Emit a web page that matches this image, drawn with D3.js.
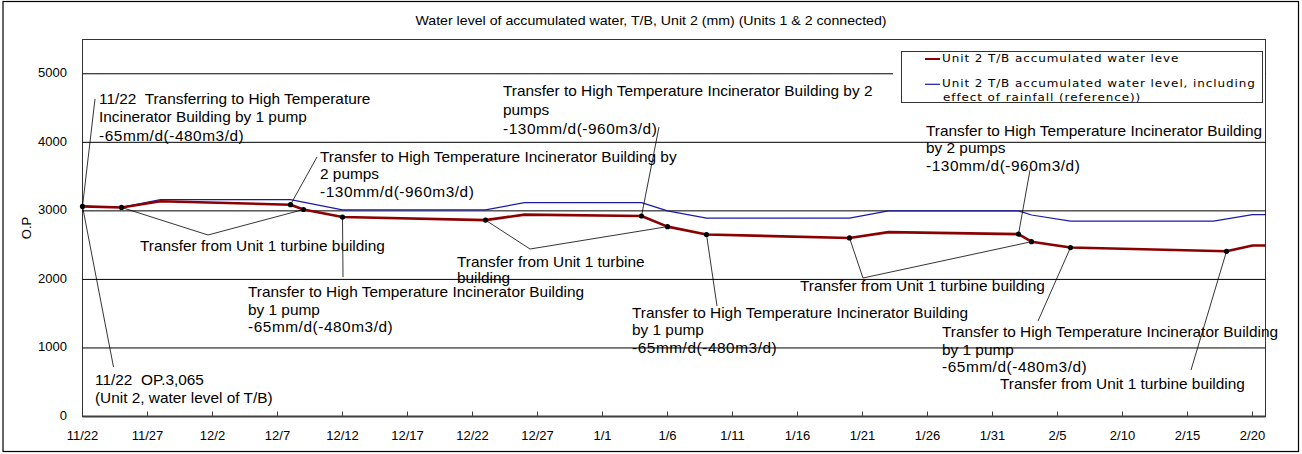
<!DOCTYPE html>
<html>
<head>
<meta charset="utf-8">
<script src="https://cdn.jsdelivr.net/npm/d3@7"></script>
<style>
  body { margin: 0; background: #fff; }
  svg { display: block; font-family: "Liberation Sans", Arial, sans-serif; }
  .frame { fill: none; stroke: #000; stroke-width: 1.2; }
  .plot-border { fill: none; stroke: #333; stroke-width: 1; }
  .grid { stroke: #000; stroke-width: 1; }
  .baseline { stroke: #404040; stroke-width: 2; }
  .tick { stroke: #404040; stroke-width: 1; }
  .title, .tick-label, .axis-title { font-size: 13px; fill: #000; }
  .note { font-size: 14px; fill: #000; white-space: pre; }
  .note.rate { letter-spacing: 0.5px; }
  .leader { stroke: #000; stroke-width: 0.8; fill: none; }
  .marker { fill: #000; }
  .level { fill: none; stroke: #8b0000; stroke-width: 2.6; stroke-linejoin: round; }
  .rain { fill: none; stroke: #1a1aa6; stroke-width: 1.2; stroke-linejoin: round; }
  .legend-box { fill: #fff; stroke: #333; stroke-width: 1; }
  .legend-label { font-family: "DejaVu Sans", sans-serif; font-size: 10.5px; letter-spacing: 0.8px; fill: #000; }
</style>
</head>
<body>
<div id="chart"></div>
<script>
(function(d3){

    // ---- Data ----

    // Unit 2 T/B accumulated water level (mm, O.P)
    let levelDates  = ['2011-11-22','2011-11-25','2011-11-28','2011-12-08','2011-12-09','2011-12-12',
                       '2011-12-23','2011-12-26','2012-01-04','2012-01-06','2012-01-09','2012-01-20',
                       '2012-01-23','2012-02-02','2012-02-03','2012-02-06','2012-02-18','2012-02-20','2012-02-21'];
    let levelValues = [3065, 3050, 3140, 3090, 3020, 2910,
                       2865, 2945, 2925, 2770, 2655, 2605,
                       2690, 2660, 2550, 2465, 2410, 2495, 2495];

    // Same, including the effect of rainfall (reference)
    let rainDates  = ['2011-11-22','2011-11-25','2011-11-28','2011-12-08','2011-12-12','2011-12-23',
                      '2011-12-26','2012-01-04','2012-01-06','2012-01-09','2012-01-20','2012-01-23',
                      '2012-02-02','2012-02-03','2012-02-06','2012-02-17','2012-02-20','2012-02-21'];
    let rainValues = [3065, 3050, 3165, 3165, 3015, 3015,
                      3120, 3120, 3000, 2895, 2895, 3000,
                      3000, 2940, 2850, 2850, 2945, 2945];

    let seriesNames = ['Unit 2 T/B accumulated water leve',
                       'Unit 2 T/B accumulated water level, including|effect of rainfall (reference))'];

    let tickDays = d3.range(0, 91, 5);     // a label every 5 days from 11/22
    let yTicks = [0, 1000, 2000, 3000, 4000, 5000];

    let title = 'Water level of accumulated water, T/B, Unit 2 (mm) (Units 1 & 2 connected)';

    // Call-outs: text lines and the dates on the level line they point to
    let notes = [
        { lines: ['11/22  Transferring to High Temperature', 'Incinerator Building by 1 pump', '-65mm/d(-480m3/d)'], at: ['2011-11-22'] },
        { lines: ['11/22  OP.3,065', '(Unit 2, water level of T/B)'], at: ['2011-11-22'] },
        { lines: ['Transfer to High Temperature Incinerator Building by', '2 pumps', '-130mm/d(-960m3/d)'], at: ['2011-12-08'] },
        { lines: ['Transfer from Unit 1 turbine building'], at: ['2011-11-25', '2011-12-09'] },
        { lines: ['Transfer to High Temperature Incinerator Building', 'by 1 pump', '-65mm/d(-480m3/d)'], at: ['2011-12-12'] },
        { lines: ['Transfer to High Temperature Incinerator Building by 2', 'pumps', '-130mm/d(-960m3/d)'], at: ['2012-01-04'] },
        { lines: ['Transfer from Unit 1 turbine', 'building'], at: ['2011-12-23', '2012-01-06'] },
        { lines: ['Transfer to High Temperature Incinerator Building', 'by 1 pump', '-65mm/d(-480m3/d)'], at: ['2012-01-09'] },
        { lines: ['Transfer to High Temperature Incinerator Building', 'by 2 pumps', '-130mm/d(-960m3/d)'], at: ['2012-02-02'] },
        { lines: ['Transfer from Unit 1 turbine building'], at: ['2012-01-20', '2012-02-03'] },
        { lines: ['Transfer to High Temperature Incinerator Building', 'by 1 pump', '-65mm/d(-480m3/d)'], at: ['2012-02-06'] },
        { lines: ['Transfer from Unit 1 turbine building'], at: ['2012-02-18'] }
    ];

    // Where each call-out sits on the page (text origin, line gap, leader tip)
    let noteLayout = [
        { x: 99,  y: 100, gap: 18.5, tip: [95, 99] },
        { x: 95,  y: 381, gap: 18,   tip: [113.5, 367] },
        { x: 320, y: 158, gap: 17.5, tip: [317, 157] },
        { x: 140, y: 247, gap: 17,   tip: [208, 235] },
        { x: 248, y: 293.5, gap: 17.5, tip: [343, 277] },
        { x: 503, y: 92,  gap: 19,   tip: [659, 127] },
        { x: 457, y: 263, gap: 16,   tip: [530, 249] },
        { x: 632, y: 314, gap: 17.7, tip: [717, 306] },
        { x: 926, y: 132, gap: 17.5, tip: [1030, 170] },
        { x: 800, y: 287, gap: 17,   tip: [863, 278] },
        { x: 942, y: 333, gap: 17.8, tip: [1038, 321] },
        { x: 1000, y: 385, gap: 17,  tip: [1191, 370] }
    ];

    // The source picture is a little wider than its fonts
    let stretch = 1.1;

    // ---- Layout ----
    let width = 1302, height = 454;
    let plotLeft = 82.5, plotTop = 39.5, plotBottom = 416.5, dayWidth = 13;

    let parse = d3.timeParse('%Y-%m-%d');
    let start = parse(levelDates[0]);
    let end = d3.timeDay.offset(start, 91);

    let x = d3.scaleTime()
        .domain([start, end])
        .range([plotLeft, plotLeft + 91 * dayWidth]);
    let plotRight = x(end);

    let y = d3.scaleLinear()
        .domain([0, 5500])
        .range([plotBottom, plotTop]);

    let level = levelDates.map((d, i) => ({ date: parse(d), value: levelValues[i] }));
    let rain = rainDates.map((d, i) => ({ date: parse(d), value: rainValues[i] }));

    let svg = d3.select('#chart')
        .append('svg')
        .attr('width', width)
        .attr('height', height);

    // Text placed at (tx, ty) and widened like the original
    function wideText(tx, ty, s, cls, sx) {
        return svg.append('text')
            .attr('transform', `translate(${tx} ${ty}) scale(${sx} 1)`)
            .attr('dominant-baseline', 'middle')
            .attr('class', cls)
            .text(s);
    }

    // Outer frame
    svg.append('rect')
        .attr('x', 3).attr('y', 1.5)
        .attr('width', 1295.5).attr('height', 450)
        .attr('class', 'frame');

    wideText(651, 22, title, 'title', 1.09)
        .attr('text-anchor', 'middle');

    // Plot area border
    svg.append('rect')
        .attr('x', plotLeft).attr('y', plotTop)
        .attr('width', plotRight - plotLeft)
        .attr('height', plotBottom - plotTop)
        .attr('class', 'plot-border');

    // Horizontal gridlines
    yTicks.filter(v => v > 0).forEach(v => {
        svg.append('line')
            .attr('x1', plotLeft).attr('x2', plotRight)
            .attr('y1', y(v)).attr('y2', y(v))
            .attr('class', 'grid');
    });

    // Y tick labels
    yTicks.forEach(v => {
        svg.append('text')
            .attr('x', 67).attr('y', y(v))
            .attr('text-anchor', 'end')
            .attr('dominant-baseline', 'middle')
            .attr('class', 'tick-label')
            .text(v);
    });

    svg.append('text')
        .attr('transform', `translate(28 ${(plotTop + plotBottom) / 2}) rotate(-90)`)
        .attr('text-anchor', 'middle')
        .attr('dominant-baseline', 'middle')
        .attr('class', 'axis-title')
        .text('O.P');

    // X axis line, inner ticks and labels
    svg.append('line')
        .attr('x1', plotLeft).attr('x2', plotRight)
        .attr('y1', plotBottom).attr('y2', plotBottom)
        .attr('class', 'baseline');

    let fmt = d3.timeFormat('%-m/%-d');
    tickDays.forEach(n => {
        let t = d3.timeDay.offset(start, n);
        if(n > 0) {
            svg.append('line')
                .attr('x1', x(t)).attr('x2', x(t))
                .attr('y1', plotBottom).attr('y2', plotBottom - 5)
                .attr('class', 'tick');
        }
        svg.append('text')
            .attr('x', x(t)).attr('y', 437)
            .attr('text-anchor', 'middle')
            .attr('dominant-baseline', 'middle')
            .attr('class', 'tick-label')
            .text(fmt(t));
    });

    // Legend (white panel hides the 5000 gridline behind it)
    svg.append('rect')
        .attr('x', 893).attr('y', 45)
        .attr('width', plotRight - 893.5).attr('height', 64)
        .attr('fill', '#fff');
    svg.append('rect')
        .attr('x', 901.5).attr('y', 51.5)
        .attr('width', 361).attr('height', 51)
        .attr('class', 'legend-box');

    let legendRows = [
        { color: '#8b0000', w: 2, y: 59 },
        { color: '#1a1aa6', w: 1.2, y: 84.3 }
    ];
    legendRows.forEach((row, i) => {
        svg.append('line')
            .attr('x1', 925).attr('x2', 940)
            .attr('y1', row.y).attr('y2', row.y)
            .attr('stroke', row.color)
            .attr('stroke-width', row.w);
        seriesNames[i].split('|').forEach((s, k) => {
            wideText(k === 0 ? 942 : 943, row.y + k * 14, s, 'legend-label', 1.14);
        });
    });

    // Series lines
    let line = d3.line()
        .x(d => x(d.date))
        .y(d => y(d.value));

    svg.append('path')
        .datum(rain)
        .attr('d', line)
        .attr('class', 'rain');

    svg.append('path')
        .datum(level)
        .attr('d', line)
        .attr('class', 'level');

    // Call-outs
    let byDate = new Map(level.map(d => [+d.date, d]));

    notes.forEach((note, i) => {
        let lay = noteLayout[i];
        note.at.forEach(dstr => {
            let p = byDate.get(+parse(dstr));
            svg.append('line')
                .attr('x1', x(p.date)).attr('y1', y(p.value))
                .attr('x2', lay.tip[0]).attr('y2', lay.tip[1])
                .attr('class', 'leader');
        });
        note.lines.forEach((s, k) => {
            wideText(lay.x, lay.y + k * lay.gap, s,
                     /mm\/d/.test(s) ? 'note rate' : 'note', stretch);
        });
    });

    // Dots where the call-outs touch the level line
    let marked = [...new Set(notes.flatMap(n => n.at))];
    marked.forEach(dstr => {
        let p = byDate.get(+parse(dstr));
        svg.append('circle')
            .attr('cx', x(p.date))
            .attr('cy', y(p.value))
            .attr('r', 2.6)
            .attr('class', 'marker');
    });

})(window.d3);
</script>
</body>
</html>
